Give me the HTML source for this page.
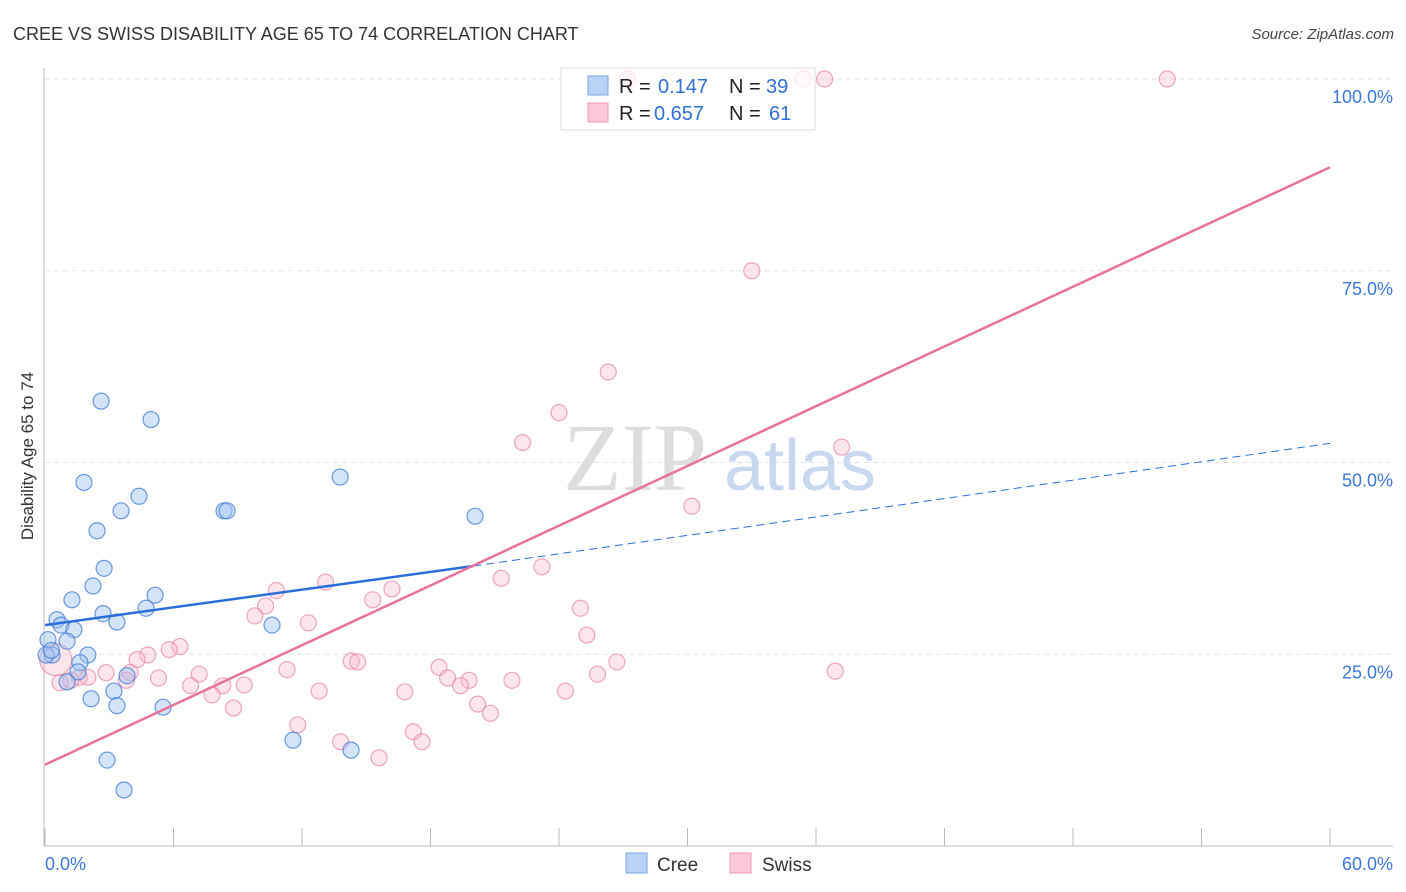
<!DOCTYPE html>
<html><head><meta charset="utf-8">
<style>
body{margin:0;background:#fff;width:1406px;height:892px;overflow:hidden;font-family:"Liberation Sans",sans-serif}
svg{display:block}
</style></head>
<body>
<svg id="chart" width="1406" height="892" xmlns="http://www.w3.org/2000/svg">
<text x="13" y="40" font-size="18" fill="#333" font-family="Liberation Sans, sans-serif">CREE VS SWISS DISABILITY AGE 65 TO 74 CORRELATION CHART</text>
<text x="1394" y="39" font-size="15" fill="#444" text-anchor="end" font-style="italic">Source: ZipAtlas.com</text>
<text transform="translate(33,456) rotate(-90)" font-size="17" fill="#333" text-anchor="middle">Disability Age 65 to 74</text>
<g id="grid"></g>
<g>
<text x="635" y="490" font-size="96" fill="#ddd" font-family="Liberation Serif, serif" text-anchor="middle">ZIP</text>
<text x="800" y="490" font-size="72" fill="#c8d8ee" text-anchor="middle">atlas</text>
</g>
<g id="axes"></g>
<g id="pts"></g>
<g id="lines"></g>
<g>
<rect x="561" y="68" width="254" height="62" fill="rgba(255,255,255,0.75)" stroke="#ddd"/>
<rect x="588" y="76" width="20" height="19" fill="#b8d3f5" stroke="#7aa6e0"/>
<rect x="588" y="103" width="20" height="19" fill="#fbc8d8" stroke="#ee9ab5"/>
<text x="619" y="93" font-size="20" fill="#222">R =</text>
<text x="658" y="93" font-size="20" fill="#2f6fd6">0.147</text>
<text x="729" y="93" font-size="20" fill="#222">N =</text>
<text x="766" y="93" font-size="20" fill="#2f6fd6">39</text>
<text x="619" y="120" font-size="20" fill="#222">R =</text>
<text x="654" y="120" font-size="20" fill="#2f6fd6">0.657</text>
<text x="729" y="120" font-size="20" fill="#222">N =</text>
<text x="769" y="120" font-size="20" fill="#2f6fd6">61</text>
</g>
<g>
<rect x="626" y="853" width="21" height="20" fill="#b8d3f5" stroke="#7aa6e0"/>
<text x="657" y="871" font-size="19" fill="#333">Cree</text>
<rect x="730" y="853" width="21" height="20" fill="#fbc8d8" stroke="#ee9ab5"/>
<text x="762" y="871" font-size="19" fill="#333">Swiss</text>
</g>
</svg>
<script>
const creeX=[2.62,4.95,1.82,4.39,3.55,8.36,8.5,13.78,20.08,2.43,2.76,2.24,5.14,1.26,4.72,2.71,0.56,3.36,0.75,1.35,10.6,0.14,1.03,2.0,0.33,1.63,1.54,3.83,1.03,3.22,2.15,3.36,5.51,11.58,14.29,2.9,3.69,0.05,0.3];
const creeY=[58.0,55.6,47.4,45.6,43.7,43.7,43.7,48.1,43.0,41.1,36.2,33.9,32.7,32.1,31.0,30.3,29.5,29.2,28.8,28.2,28.8,26.9,26.7,24.9,24.9,23.9,22.7,22.2,21.4,20.2,19.2,18.3,18.1,13.8,12.5,11.2,7.3,24.9,25.5];
const swissX=[27.2,35.4,36.4,52.4,33.0,26.3,24.0,22.3,37.2,30.2,23.2,21.3,13.1,16.2,10.8,15.3,10.3,25.0,9.8,12.3,25.3,6.3,5.8,4.8,4.3,14.3,14.6,26.7,18.4,11.3,36.9,2.85,3.97,7.2,25.8,1.6,18.8,19.8,21.8,5.3,3.8,1.2,0.7,6.8,8.3,9.3,19.4,12.8,16.8,24.3,7.8,20.2,8.8,20.8,11.8,17.2,13.8,17.6,15.6,0.5,2.0];
const swissY=[100,100,100,100,75.0,61.8,56.5,52.6,52.0,44.3,36.4,34.9,34.4,33.5,33.3,32.1,31.3,31.0,30.0,29.1,27.5,26.0,25.6,24.9,24.3,24.1,24.0,24.0,23.3,23.0,22.8,22.6,22.6,22.4,22.4,22.0,21.9,21.6,21.6,21.9,21.6,21.6,21.3,20.9,20.9,21.0,20.9,20.2,20.1,20.2,19.7,18.5,18.0,17.3,15.8,14.9,13.6,13.6,11.5,24.3,22.0];
const yTicks=[25,50,75,100];
const yTickLabels=["25.0%","50.0%","75.0%","100.0%"];
const xTickLabels=["0.0%","60.0%"];
const creeTrend=[28.8,36.5,52.5];
const creeTrendX=[0,20,60];
const swissTrend=[10.6,88.5];
const swissTrendX=[0,60];

const NS="http://www.w3.org/2000/svg";
const X=v=>45+v/60*1285, Y=v=>846-v/100*767;
function mk(parent,tag,attrs){const e=document.createElementNS(NS,tag);for(const k in attrs)e.setAttribute(k,attrs[k]);document.getElementById(parent).appendChild(e);return e;}
yTicks.forEach((t,i)=>{
  const g=mk('grid','line',{x1:45,x2:1393,y1:Y(t),y2:Y(t),stroke:'#e2e2e2','stroke-dasharray':'5,4'});
  
  
  const l=mk('grid','text',{x:1393,y:Y(t)+24,'font-size':18,fill:'#3a78d8','text-anchor':'end'});
  l.textContent=yTickLabels[i];
  
  
});
let a=mk('axes','line',{x1:44,x2:44,y1:68,y2:846,stroke:'#bbb'});


a=mk('axes','line',{x1:44,x2:1393,y1:846,y2:846,stroke:'#bbb'});


for(let i=0;i<=10;i++){const t=mk('axes','line',{x1:X(i*6),x2:X(i*6),y1:828,y2:846,stroke:'#bbb'});

}
[[0,'start',45],[1,'end',1393]].forEach(([i,anc,x])=>{const t=mk('axes','text',{x:x,y:870,'font-size':18,fill:'#3a78d8','text-anchor':anc});t.textContent=xTickLabels[i];

});
swissX.forEach((v,i)=>{const c=mk('pts','circle',{cx:X(v),cy:Y(swissY[i]),r:i==59?16:8,fill:'rgba(248,180,200,0.35)',stroke:'rgba(232,130,165,0.7)','stroke-width':1.2});

});
creeX.forEach((v,i)=>{const c=mk('pts','circle',{cx:X(v),cy:Y(creeY[i]),r:8,fill:'rgba(160,195,240,0.45)',stroke:'rgba(60,120,215,0.75)','stroke-width':1.2});

});
let ln=mk('lines','line',{x1:X(creeTrendX[0]),y1:Y(creeTrend[0]),x2:X(creeTrendX[1]),y2:Y(creeTrend[1]),stroke:'#2a6fd8','stroke-width':2.5});


ln=mk('lines','line',{x1:X(creeTrendX[1]),y1:Y(creeTrend[1]),x2:X(creeTrendX[2]),y2:Y(creeTrend[2]),stroke:'#2a6fd8','stroke-width':1,'stroke-dasharray':'8,5'});


ln=mk('lines','line',{x1:X(swissTrendX[0]),y1:Y(swissTrend[0]),x2:X(swissTrendX[1]),y2:Y(swissTrend[1]),stroke:'#e8729a','stroke-width':2.5});


</script>
</body></html>
